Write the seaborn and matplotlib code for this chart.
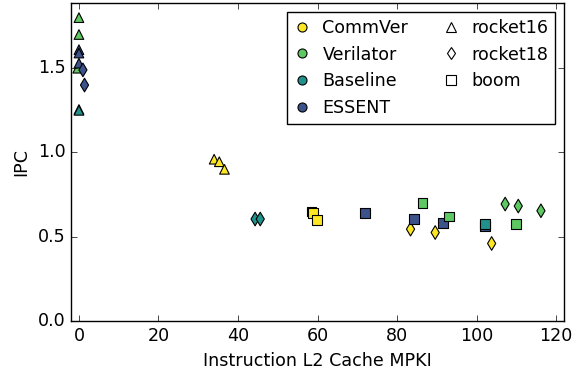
import matplotlib
matplotlib.use("Agg")
import matplotlib.pyplot as plt
from matplotlib.lines import Line2D
import seaborn as sns
import pandas as pd

plt.style.use("classic")
plt.rcParams["figure.facecolor"] = "white"
plt.rcParams["savefig.facecolor"] = "white"
plt.rcParams["font.family"] = ["DejaVu Sans"]
plt.rcParams["font.size"] = 12.6

simulators = ["CommVer", "Verilator", "Baseline", "ESSENT"]
designs = ["rocket16", "rocket18", "boom"]
colors = ["#fde725", "#5ec962", "#21918c", "#3b528b"]

sim = ["Verilator", "Verilator", "Verilator", "Verilator",
       "ESSENT", "ESSENT", "ESSENT", "ESSENT", "ESSENT", "Baseline",
       "CommVer", "CommVer", "CommVer",
       "Baseline", "Baseline",
       "CommVer", "CommVer", "CommVer",
       "ESSENT",
       "CommVer", "ESSENT", "Verilator",
       "CommVer", "ESSENT", "Verilator",
       "ESSENT", "Baseline", "CommVer",
       "Verilator", "Verilator", "Verilator", "Verilator"]
design = ["rocket16", "rocket16", "rocket16", "rocket16",
          "rocket16", "rocket16", "rocket16", "rocket18", "rocket18", "rocket16",
          "rocket16", "rocket16", "rocket16",
          "rocket18", "rocket18",
          "boom", "boom", "boom",
          "boom",
          "rocket18", "boom", "boom",
          "rocket18", "boom", "boom",
          "boom", "boom", "rocket18",
          "rocket18", "rocket18", "boom", "rocket18"]
mpki = [0.0, 0.0, -0.3, 0.0,
        0.0, 0.0, 0.0, 1.0, 1.4, 0.0,
        34.0, 35.3, 36.6,
        44.3, 45.6,
        58.5, 58.9, 59.9,
        71.9,
        83.4, 84.2, 86.4,
        89.6, 91.5, 93.0,
        102.1, 102.1, 103.8,
        107.2, 110.5, 110.0, 116.2]
ipc = [1.80, 1.70, 1.50, 1.255,
       1.61, 1.59, 1.53, 1.49, 1.40, 1.25,
       0.96, 0.945, 0.90,
       0.605, 0.605,
       0.65, 0.64, 0.60,
       0.64,
       0.545, 0.605, 0.70,
       0.525, 0.58, 0.62,
       0.565, 0.575, 0.46,
       0.694, 0.682, 0.575, 0.654]

df = pd.DataFrame({"sim": sim, "design": design, "mpki": mpki, "ipc": ipc})

fig, ax = plt.subplots(figsize=(5.75, 3.72), dpi=100)
fig.subplots_adjust(left=71 / 575, right=564 / 575, top=1 - 3 / 372, bottom=1 - 321 / 372)

marker_map = {"rocket16": "^", "rocket18": "d", "boom": "s"}
sns.scatterplot(data=df, x="mpki", y="ipc", hue="sim", style="design",
                hue_order=simulators, style_order=designs,
                palette=dict(zip(simulators, colors)), markers=marker_map,
                s=48, edgecolor="black", linewidth=0.8, legend=False, ax=ax)

ax.set_xlim(-2, 122)
ax.set_ylim(0, 1.887)
ax.set_xticks([0, 20, 40, 60, 80, 100, 120])
ax.set_yticks([0.0, 0.5, 1.0, 1.5])
ax.set_xlabel("Instruction L2 Cache MPKI")
ax.set_ylabel("IPC")

handles = []
labels = []
for s_, c in zip(simulators, colors):
    handles.append(Line2D([], [], linestyle="none", marker="o", markersize=6.5,
                          markerfacecolor=c, markeredgecolor="black", markeredgewidth=0.8))
    labels.append(s_)
for d in designs:
    handles.append(Line2D([], [], linestyle="none", marker=marker_map[d],
                          markersize=6.5, markerfacecolor="white", markeredgecolor="black",
                          markeredgewidth=0.8))
    labels.append(d)
handles.append(Line2D([], [], linestyle="none"))
labels.append("")
ax.legend(handles, labels, ncol=2, loc="upper right", numpoints=1, fontsize=12.6,
          handlelength=0.9, handletextpad=0.7, columnspacing=2.0, labelspacing=0.5,
          borderpad=0.4)

fig.savefig("out.png", dpi=100)
